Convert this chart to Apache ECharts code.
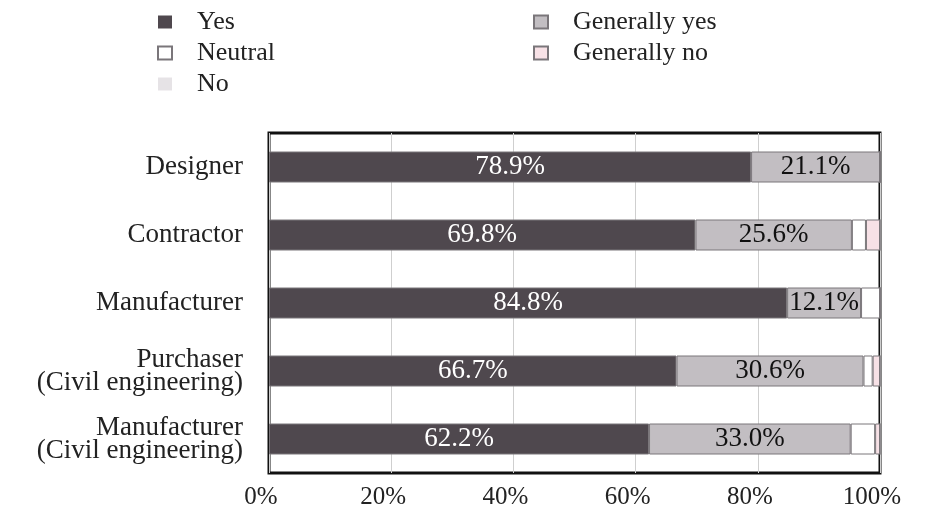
<!DOCTYPE html>
<html>
<head>
<meta charset="utf-8">
<script src="https://cdn.jsdelivr.net/npm/echarts@6/dist/echarts.min.js"></script>
<style>html,body{margin:0;padding:0;background:#fff}#c{width:931px;height:518px}</style>
</head>
<body>
<div id="c"></div>
<script>
var categories = ['Designer', 'Contractor', 'Manufacturer', 'Purchaser\n(Civil engineering)', 'Manufacturer\n(Civil engineering)'];
var yesVals = [78.9, 69.8, 84.8, 66.7, 62.2];
var generallyYesVals = [21.1, 25.6, 12.1, 30.6, 33.0];
var neutralVals = [0, 2.3, 3.1, 1.5, 4.0];
var generallyNoVals = [0, 2.3, 0, 1.2, 0.8];
var noVals = [0, 0, 0, 0, 0];
var xTicks = [0, 20, 40, 60, 80, 100];

var serif = '"Liberation Serif", "DejaVu Serif", serif';
var chart = echarts.init(document.getElementById('c'));

function seg(name, data, color, labelColor, showLabel, border) {
  return {
    name: name, type: 'bar', stack: 'all', data: data, barWidth: 31,
    itemStyle: { color: color, borderColor: border || '#7a767a', borderWidth: 1 },
    label: {
      show: showLabel, position: 'inside', color: labelColor,
      fontFamily: serif, fontSize: 27,
      formatter: function (p) { return p.value.toFixed(1) + '%'; }
    },
    emphasis: { disabled: true },
    animation: false
  };
}

var legendText = { fontFamily: serif, fontSize: 26, color: '#222', padding: [0, 0, 0, 20], lineHeight: 26 };
chart.setOption({
  animation: false,
  legend: [
    { data: [{ name: 'Yes', itemStyle: { borderWidth: 0 } }, { name: 'Neutral' }, { name: 'No', itemStyle: { borderWidth: 0 } }],
      orient: 'vertical', left: 152, top: 4, icon: 'rect', itemWidth: 14, itemHeight: 13, itemGap: 5, textStyle: legendText, selectedMode: false },
    { data: [{ name: 'Generally yes' }, { name: 'Generally no' }],
      orient: 'vertical', left: 528, top: 4, icon: 'rect', itemWidth: 14, itemHeight: 13, itemGap: 5, textStyle: legendText, selectedMode: false }
  ],
  grid: { left: 269, right: 51, top: 133, bottom: 45, show: true, borderColor: '#111', borderWidth: 3, containLabel: false },
  xAxis: {
    type: 'value', min: 0, max: 100, interval: 20,
    axisLine: { show: false }, axisTick: { show: false },
    splitLine: { show: true, lineStyle: { color: '#cfcfcf', width: 1 } },
    axisLabel: {
      fontFamily: serif, fontSize: 25, color: '#222', margin: 12,
      padding: [0, 16, 0, 0],
      customValues: xTicks,
      formatter: function (v) { return v + '%'; }
    }
  },
  yAxis: {
    type: 'category', data: categories, inverse: true,
    axisLine: { show: false }, axisTick: { show: false },
    axisLabel: { fontFamily: serif, fontSize: 27, color: '#222', margin: 26, lineHeight: 23, align: 'right' }
  },
  series: [
    seg('Yes', yesVals, '#4f484e', '#ffffff', true),
    seg('Generally yes', generallyYesVals, '#c2bec2', '#111111', true),
    seg('Neutral', neutralVals, '#ffffff', '#111', false),
    seg('Generally no', generallyNoVals, '#f7e1e6', '#111', false),
    seg('No', noVals, '#e6e3e6', '#111', false)
  ]
});
</script>
</body>
</html>
